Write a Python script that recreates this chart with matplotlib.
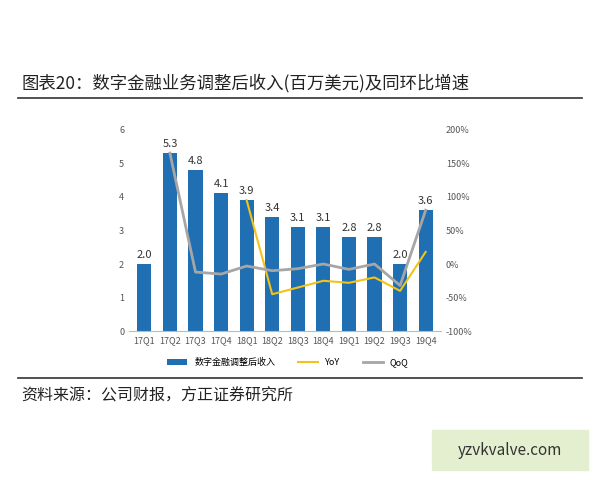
import matplotlib
matplotlib.use("Agg")
import matplotlib.pyplot as plt
from matplotlib.patches import Rectangle

plt.rcParams['font.family'] = ['Noto Sans CJK SC', 'DejaVu Sans']

cats = ['17Q1','17Q2','17Q3','17Q4','18Q1','18Q2','18Q3','18Q4','19Q1','19Q2','19Q3','19Q4']
revenue = [2.0,5.3,4.8,4.1,3.9,3.4,3.1,3.1,2.8,2.8,2.0,3.6]
yoy = [None,None,None,None,95,-45,-35,-25,-28,-20,-40,18]
qoq = [None,165,-12,-15,-3,-10,-7,0,-8,0,-32,80]

fig = plt.figure(figsize=(6,4.8), dpi=100)
fig.text(0.035, 0.815, '图表20：数字金融业务调整后收入(百万美元)及同环比增速', fontsize=12.5, color='#222222')
fig.add_artist(plt.Line2D([0.03,0.97],[0.795,0.795], color='#333333', lw=1.2))
fig.add_artist(plt.Line2D([0.03,0.97],[0.212,0.212], color='#333333', lw=1.2))
fig.text(0.035, 0.165, '资料来源：公司财报，方正证券研究所', fontsize=11.5, style='italic', color='#222222')
fig.add_artist(Rectangle((0.72,0.02),0.26,0.085, transform=fig.transFigure, color='#e4efd0'))
fig.text(0.85, 0.062, 'yzvkvalve.com', fontsize=11, ha='center', va='center', color='#333333')

ax = fig.add_axes([0.215, 0.31, 0.52, 0.42])
x = list(range(len(cats)))
ax.bar(x, revenue, width=0.55, color='#1f6fb2', label='数字金融调整后收入')
for i, v in enumerate(revenue):
    ax.text(i, v+0.12, f'{v:.1f}', ha='center', va='bottom', fontsize=8, color='#333333')
ax.set_ylim(0,6)
ax.set_xlim(-0.6, len(cats)-0.4)
ax.set_xticks(x)
ax.set_xticklabels(cats, fontsize=6.5, color='#555555')
ax.tick_params(axis='y', labelsize=6.5, colors='#555555', length=0)
ax.tick_params(axis='x', length=0)
for s in ['top','right','left']:
    ax.spines[s].set_visible(False)
ax.spines['bottom'].set_color('#bbbbbb')

ax2 = ax.twinx()
xy = [i for i,v in enumerate(yoy) if v is not None]
ax2.plot(xy, [yoy[i] for i in xy], color='#f2c318', lw=1.5, label='YoY')
xq = [i for i,v in enumerate(qoq) if v is not None]
ax2.plot(xq, [qoq[i] for i in xq], color='#a6a6a6', lw=2, label='QoQ')
ax2.set_ylim(-100,200)
ax2.set_yticks(range(-100,201,50))
ax2.set_yticklabels([f'{t}%' for t in range(-100,201,50)])
ax2.tick_params(axis='y', labelsize=6.5, colors='#555555', length=0)
for s in ['top','right','left','bottom']:
    ax2.spines[s].set_visible(False)

h1,l1 = ax.get_legend_handles_labels()
h2,l2 = ax2.get_legend_handles_labels()
fig.legend(h1+h2, l1+l2, loc='center', bbox_to_anchor=(0.48,0.245), ncol=3, frameon=False, fontsize=6.5, handlelength=2.2, columnspacing=2.5)

fig.savefig('out.png', dpi=100)
